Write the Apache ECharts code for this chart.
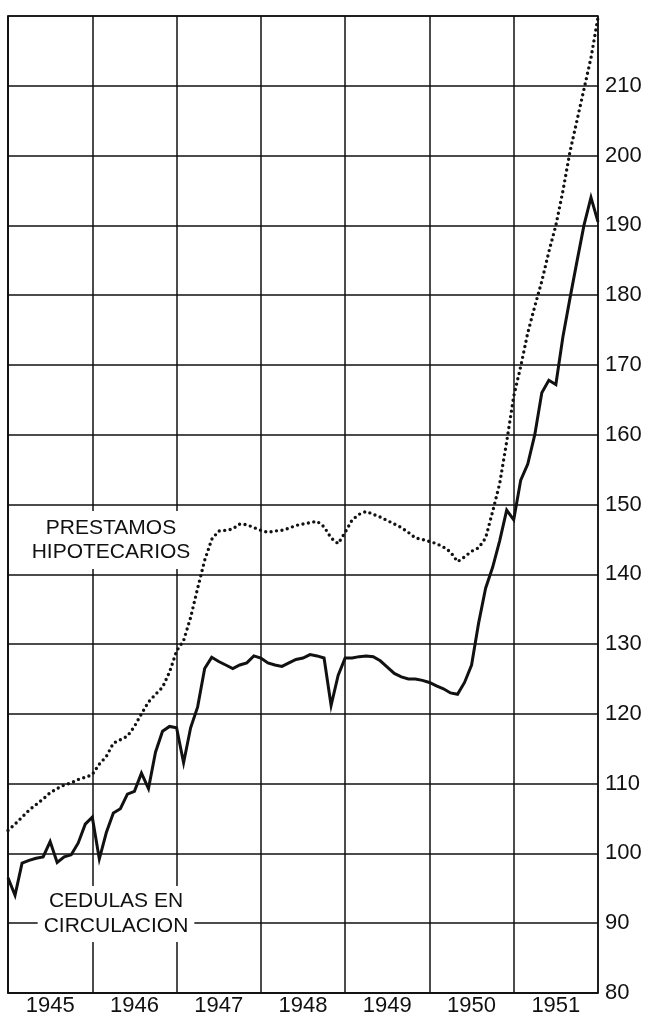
<!DOCTYPE html>
<html>
<head>
<meta charset="utf-8">
<script src="https://cdn.jsdelivr.net/npm/echarts@6/dist/echarts.min.js"></script>
<style>
  html, body { margin: 0; padding: 0; background: #fff; }
  #main { width: 652px; height: 1022px; }
</style>
</head>
<body>
<div id="main"></div>
<script>
// años del eje horizontal
var years = ['1945', '1946', '1947', '1948', '1949', '1950', '1951'];
// etiquetas del eje vertical (derecha)
var yTicks = [80, 90, 100, 110, 120, 130, 140, 150, 160, 170, 180, 190, 200, 210];

// cedulas en circulacion, mensual desde ene 1945 (85 puntos)
var cedulas = [
  96.5, 94, 98.6, 99, 99.3, 99.5, 101.7, 98.7, 99.5, 99.8, 101.5, 104.2,
  105.2, 99.2, 103, 105.8, 106.4, 108.5, 108.9, 111.5, 109.3, 114.5, 117.5, 118.2,
  118, 113, 118, 121, 126.5, 128.1, 127.5, 127, 126.5, 127, 127.3, 128.3,
  128, 127.3, 127, 126.8, 127.3, 127.8, 128, 128.5, 128.3, 128, 121.2, 125.5,
  128, 128, 128.2, 128.3, 128.2, 127.6, 126.7, 125.8, 125.3, 125, 125, 124.8,
  124.5, 124, 123.6, 123, 122.8, 124.5, 127, 133, 138, 141, 144.8, 149.2,
  147.8, 153.5, 155.8, 160, 166, 167.8, 167.2, 174, 179.5, 184.8, 190, 194, 190.5
];

// prestamos hipotecarios, mensual desde ene 1945 (85 puntos)
var prestamos = [
  103.3, 104.2, 105.2, 106.2, 107, 107.8, 108.7, 109.3, 109.8, 110.1, 110.6, 110.9,
  111.3, 112.8, 113.9, 115.8, 116.3, 116.8, 118.2, 120, 121.7, 122.8, 123.8, 126,
  129, 130.5, 133.8, 138, 142, 145, 146.2, 146.3, 146.5, 147.2, 147.1, 146.7,
  146.3, 146, 146.2, 146.3, 146.6, 147, 147.2, 147.4, 147.6, 146.8, 145.2, 144.4,
  146, 147.8, 148.6, 149, 148.6, 148.2, 147.7, 147.2, 146.7, 146, 145.2, 145,
  144.7, 144.4, 143.9, 143.2, 141.8, 142.5, 143.3, 143.8, 145.2, 149, 153, 159,
  165.5, 169.8, 174.6, 178.4, 182, 186.2, 190, 194.9, 200.5, 205, 209.5, 214, 219.8
];

var chart = echarts.init(document.getElementById('main'), null, { renderer: 'canvas' });

var font = 'Liberation Sans';
var ink = '#111';

var option = {
  backgroundColor: '#fff',
  animation: false,
  grid: {
    left: 8, right: 54, top: 16, bottom: 29,
    show: true,
    borderColor: ink,
    borderWidth: 1.5
  },
  xAxis: [{
    type: 'category',
    data: years,
    boundaryGap: true,
    axisLine: { show: true, lineStyle: { color: ink, width: 1.5 } },
    axisTick: { show: false },
    axisLabel: { color: ink, fontFamily: font, fontSize: 22, margin: 2 },
    splitLine: { show: true, interval: 0, lineStyle: { color: ink, width: 1.5 } }
  }, {
    type: 'value',
    min: 0,
    max: years.length * 12,
    show: false
  }],
  yAxis: {
    type: 'value',
    position: 'right',
    min: 80,
    max: 220,
    interval: 10,
    axisLine: { show: true, lineStyle: { color: ink, width: 1.5 } },
    axisTick: { show: false },
    axisLabel: {
      color: ink, fontFamily: font, fontSize: 22, margin: 7,
      formatter: function (v) { return yTicks.indexOf(v) >= 0 ? String(v) : ''; }
    },
    splitLine: { show: true, lineStyle: { color: ink, width: 1.5 } }
  },
  series: [{
    name: 'PRESTAMOS HIPOTECARIOS',
    type: 'line',
    xAxisIndex: 1,
    data: prestamos.map(function (v, i) { return [i, v]; }),
    showSymbol: false,
    lineStyle: { color: ink, width: 3.4, type: [0, 5.5], cap: 'round' },
    z: 3
  }, {
    name: 'CEDULAS EN CIRCULACION',
    type: 'line',
    xAxisIndex: 1,
    data: cedulas.map(function (v, i) { return [i, v]; }),
    showSymbol: false,
    lineStyle: { color: ink, width: 3, join: 'miter' },
    z: 4
  }],
  graphic: [{
    type: 'text',
    x: 111, y: 540,
    z: 10,
    style: {
      text: 'PRESTAMOS\nHIPOTECARIOS',
      fill: ink,
      font: '21px "Liberation Sans"',
      align: 'center',
      verticalAlign: 'middle',
      lineHeight: 24,
      backgroundColor: '#fff',
      padding: [5, 3, 5, 3]
    }
  }, {
    type: 'text',
    x: 116, y: 914,
    z: 10,
    style: {
      text: 'CEDULAS EN\nCIRCULACION',
      fill: ink,
      font: '21px "Liberation Sans"',
      align: 'center',
      verticalAlign: 'middle',
      lineHeight: 25,
      backgroundColor: '#fff',
      padding: [3, 6, 3, 6]
    }
  }]
};

chart.setOption(option);
</script>
</body>
</html>
